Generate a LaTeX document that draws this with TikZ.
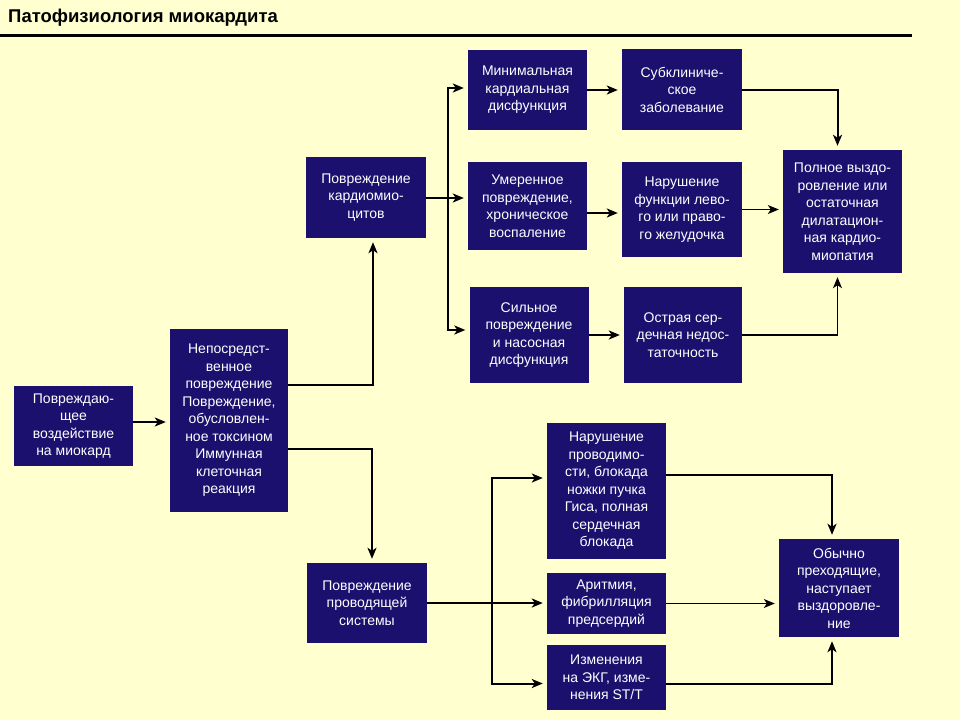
\documentclass[tikz,border=0pt]{standalone}
\usepackage{fontspec}
\setmainfont{Liberation Sans}
\usetikzlibrary{arrows.meta}
\definecolor{bgc}{RGB}{255,255,208}
\definecolor{navy}{RGB}{28,16,110}
\tikzset{
  box/.style={fill=navy, text=white, align=center, inner sep=0pt,
    font=\fontsize{14}{17.5}\selectfont},
  ln/.style={line width=2pt, black},
  thin/.style={line width=1.2pt, black},
  arr/.style={-{Stealth[length=11pt,width=9pt,inset=3pt]}, shorten >=4pt},
}
\begin{document}
\begin{tikzpicture}[x=1pt,y=-1pt]
\fill[bgc] (0,0) rectangle (960,720);
\useasboundingbox (0,0) rectangle (960,720);
% title
\node[anchor=west, inner sep=0pt, font=\fontsize{18.5}{22}\selectfont\bfseries] (title) at (8,18) {Патофизиология миокардита};
\coordinate (r1) at (0,35.5);
\coordinate (r2) at (912,35.5);
\draw[line width=3pt] (r1) -- (r2);
% boxes
\node[box, minimum width=119, minimum height=80] (b1) at (73.5,426) {Повреждаю-\\щее\\воздействие\\на миокард};
\node[box, minimum width=118, minimum height=183] (b2) at (229,420.5) {Непосредст-\\венное\\повреждение\\Повреждение,\\обусловлен-\\ное токсином\\Иммунная\\клеточная\\реакция};
\node[box, minimum width=120, minimum height=81] (b3) at (366,197.5) {Повреждение\\кардиомио-\\цитов};
\node[box, minimum width=119, minimum height=80] (b4) at (527.5,90) {Минимальная\\кардиальная\\дисфункция};
\node[box, minimum width=119, minimum height=88] (b5) at (527.5,206) {Умеренное\\повреждение,\\хроническое\\воспаление};
\node[box, minimum width=119, minimum height=96] (b6) at (529,335) {Сильное\\повреждение\\и насосная\\дисфункция};
\node[box, minimum width=118, minimum height=96] (b7) at (683,335) {Острая сер-\\дечная недос-\\таточность};
\node[box, minimum width=120, minimum height=81] (b8) at (682,89.5) {Субклиниче-\\ское\\заболевание};
\node[box, minimum width=120, minimum height=95] (b9) at (682,209.5) {Нарушение\\функции лево-\\го или право-\\го желудочка};
\node[box, minimum width=119, minimum height=123] (b10) at (842.5,211.5) {Полное выздо-\\ровление или\\остаточная\\дилатацион-\\ная кардио-\\миопатия};
\node[box, minimum width=120, minimum height=80] (b11) at (367,603) {Повреждение\\проводящей\\системы};
\node[box, minimum width=119, minimum height=136] (b12) at (606.5,491) {Нарушение\\проводимо-\\сти, блокада\\ножки пучка\\Гиса, полная\\сердечная\\блокада};
\node[box, minimum width=119, minimum height=61] (b13) at (606.5,603.5) {Аритмия,\\фибрилляция\\предсердий};
\node[box, minimum width=119, minimum height=65] (b14) at (606.5,677.5) {Изменения\\на ЭКГ, изме-\\нения ST/T};
\node[box, minimum width=120, minimum height=98] (b15) at (839,588) {Обычно\\преходящие,\\наступает\\выздоровле-\\ние};
% junctions
\coordinate (j1) at (373,385);
\coordinate (j2) at (372,449);
\coordinate (t1) at (448,198);
\coordinate (t2) at (492,603);
% connectors
\draw[ln,arr] ([yshift=4pt]b1.east) -- ([yshift=4pt]b1.east -| b2.west);
\draw[ln,arr] (b2.east |- j1) -- (j1) -- (j1 |- b3.south);
\draw[ln,arr] (b2.east |- j2) -- (j2) -- (j2 |- b11.north);
\draw[ln,arr] (b3.east |- t1) -- (t1 -| b5.west);
\draw[ln,arr] (t1) |- ([yshift=2pt]b4.west);
\draw[ln,arr] (t1) |- ([yshift=5pt]b6.west);
\draw[ln,arr] (b4.east) -- (b4.east -| b8.west);
\draw[ln,arr] (b8.east) -| ([xshift=-5pt]b10.north);
\draw[ln,arr] ([yshift=-7pt]b5.east) -- ([yshift=-7pt]b5.east -| b9.west);
\draw[thin,arr] (b9.east) -- (b9.east -| b10.west);
\draw[ln,arr] (b6.east) -- (b6.east -| b7.west);
\draw[thin,arr] (b7.east) -| ([xshift=-5pt]b10.south);
\draw[ln,arr] (b11.east) -- (b11.east -| b13.west);
\draw[ln,arr] (t2) |- ([yshift=13pt]b12.west);
\draw[ln,arr] (t2) |- ([yshift=-6pt]b14.west);
\draw[ln,arr] ([yshift=16pt]b12.east) -| ([xshift=-7pt]b15.north);
\draw[thin,arr] (b13.east) -- (b13.east -| b15.west);
\draw[ln,arr] ([yshift=-6pt]b14.east) -| ([xshift=-7pt]b15.south);
\end{tikzpicture}
\end{document}
